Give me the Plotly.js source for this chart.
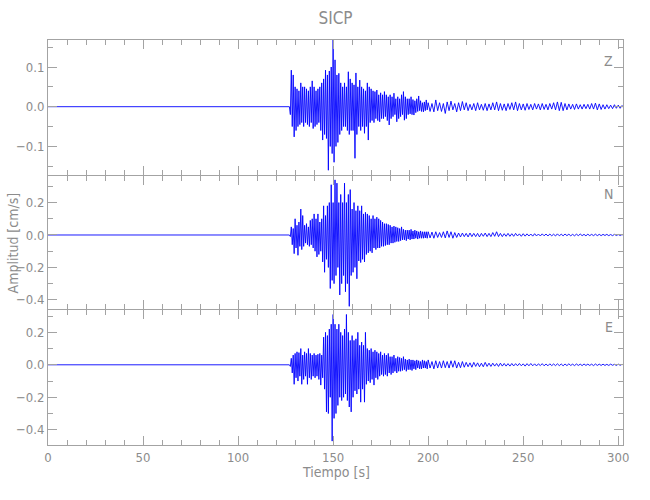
<!DOCTYPE html>
<html><head><meta charset="utf-8">
<script src="https://cdn.plot.ly/plotly-3.0.1.min.js"></script>
<style>html,body{margin:0;padding:0;background:#fff}#chart{width:650px;height:500px}</style>
</head><body><div id="chart"></div>
<script>
// Time bins of the min/max-decimated seismograms: [start (s), step (s), count]
// (pre-event noise is below one pixel, so it is a single flat bin)
const binSegments = [[0, 127, 1], [127, 1, 73], [200, 2, 52]];
const tEnd = 303;

// Component Z: per-bin max / min (cm/s)
const zUp = [
  0,
  0,0.092,0.08,0.05,0.045,0.04,0.06,0.05,0.05,0.045,0.04,0.05,0.065,0.05,0.04,0.045,0.05,0.06,0.07,0.092,
  0.08,0.09,0.10,0.175,0.118,0.08,0.084,0.06,0.05,0.06,0.05,0.088,0.07,0.06,0.055,0.085,0.05,0.067,0.05,0.045,
  0.04,0.06,0.05,0.045,0.04,0.038,0.042,0.03,0.035,0.03,0.038,0.03,0.025,0.03,0.025,0.034,0.02,0.025,0.02,0.03,
  0.038,0.025,0.02,0.02,0.025,0.018,0.015,0.02,0.027,0.015,0.01,0.012,0.017,
  0.01,0.008,0.017,0.01,0.008,0.012,0.014,0.008,0.01,0.013,0.01,0.006,0.008,0.01,0.006,0.008,0.007,0.01,0.012,
  0.008,0.007,0.008,0.01,0.012,0.008,0.007,0.008,0.006,0.008,0.007,0.008,0.006,0.008,0.01,0.012,0.011,0.008,
  0.007,0.006,0.007,0.005,0.006,0.006,0.008,0.009,0.007,0.005,0.005,0.004,0.005,0.004,0.003
];
const zDn = [
  0,
  -0.02,-0.05,-0.076,-0.06,-0.05,-0.045,-0.04,-0.05,-0.04,-0.045,-0.05,-0.04,-0.055,-0.05,-0.045,-0.04,-0.06,-0.084,
  -0.07,-0.08,-0.16,-0.1,-0.118,-0.14,-0.10,-0.09,-0.07,-0.06,-0.05,-0.05,-0.06,-0.07,-0.06,-0.06,-0.13,-0.07,
  -0.05,-0.06,-0.05,-0.067,-0.05,-0.084,-0.04,-0.035,-0.04,-0.03,-0.035,-0.038,-0.03,-0.03,-0.025,-0.035,-0.046,
  -0.03,-0.025,-0.02,-0.038,-0.03,-0.025,-0.02,-0.034,-0.03,-0.02,-0.018,-0.02,-0.021,-0.015,-0.012,-0.01,-0.012,
  -0.013,-0.01,-0.008,
  -0.012,-0.013,-0.01,-0.012,-0.017,-0.01,-0.008,-0.013,-0.01,-0.008,-0.01,-0.008,-0.01,-0.008,-0.009,-0.01,
  -0.008,-0.008,-0.01,-0.009,-0.01,-0.007,-0.008,-0.01,-0.008,-0.009,-0.007,-0.008,-0.006,-0.008,-0.007,-0.008,
  -0.006,-0.008,-0.01,-0.01,-0.008,-0.006,-0.007,-0.006,-0.006,-0.005,-0.006,-0.006,-0.008,-0.007,-0.006,-0.005,
  -0.005,-0.004,-0.004,-0.004
];

// Component N
const nUp = [
  0,
  0,0.05,0.04,0.1,0.06,0.08,0.16,0.12,0.06,0.07,0.05,0.09,0.1,0.13,0.1,0.13,0.08,0.1,0.18,0.12,0.18,0.2,
  0.31,0.2,0.34,0.32,0.2,0.25,0.2,0.32,0.2,0.25,0.28,0.16,0.2,0.15,0.18,0.15,0.18,0.13,0.14,0.13,0.12,0.1,
  0.12,0.1,0.11,0.1,0.09,0.08,0.07,0.07,0.065,0.06,0.05,0.055,0.05,0.045,0.04,0.05,0.035,0.03,0.03,0.03,
  0.035,0.025,0.03,0.025,0.02,0.025,0.02,0.02,0.02,
  0.02,0.018,0.02,0.015,0.02,0.025,0.02,0.015,0.012,0.012,0.01,0.012,0.01,0.01,0.01,0.012,0.01,0.015,0.02,
  0.01,0.008,0.01,0.008,0.01,0.007,0.008,0.007,0.006,0.008,0.006,0.007,0.006,0.006,0.005,0.007,0.005,0.006,
  0.005,0.004,0.005,0.006,0.004,0.005,0.004,0.005,0.004,0.004,0.004,0.003,0.004,0.003,0.003
];
const nDn = [
  0,
  -0.01,-0.06,-0.115,-0.08,-0.125,-0.07,-0.09,-0.07,-0.05,-0.06,-0.07,-0.06,-0.08,-0.1,-0.135,-0.12,-0.1,
  -0.166,-0.23,-0.15,-0.2,-0.33,-0.28,-0.3,-0.25,-0.2,-0.37,-0.3,-0.25,-0.35,-0.3,-0.44,-0.25,-0.23,-0.2,
  -0.27,-0.16,-0.17,-0.15,-0.166,-0.12,-0.11,-0.1,-0.11,-0.08,-0.09,-0.08,-0.08,-0.07,-0.07,-0.065,-0.06,
  -0.06,-0.05,-0.05,-0.045,-0.04,-0.04,-0.035,-0.03,-0.03,-0.035,-0.025,-0.03,-0.025,-0.025,-0.02,-0.025,
  -0.02,-0.02,-0.02,-0.018,-0.02,
  -0.018,-0.02,-0.015,-0.015,-0.018,-0.015,-0.02,-0.015,-0.012,-0.01,-0.012,-0.01,-0.01,-0.012,-0.008,-0.01,
  -0.01,-0.008,-0.01,-0.01,-0.008,-0.008,-0.008,-0.006,-0.008,-0.007,-0.006,-0.007,-0.006,-0.006,-0.005,
  -0.006,-0.005,-0.006,-0.005,-0.005,-0.004,-0.005,-0.005,-0.004,-0.004,-0.005,-0.004,-0.004,-0.004,-0.004,
  -0.003,-0.004,-0.004,-0.003,-0.003,-0.003
];

// Component E
const eUp = [
  0,
  0,0.04,0.06,0.07,0.08,0.075,0.1,0.06,0.08,0.07,0.1,0.07,0.06,0.07,0.06,0.065,0.07,0.06,0.17,0.2,0.18,
  0.22,0.25,0.31,0.25,0.22,0.25,0.2,0.18,0.22,0.31,0.2,0.15,0.18,0.15,0.16,0.2,0.12,0.14,0.12,0.2,0.1,0.09,
  0.1,0.08,0.09,0.08,0.07,0.08,0.06,0.07,0.06,0.07,0.05,0.05,0.06,0.04,0.05,0.045,0.04,0.05,0.035,0.03,
  0.035,0.03,0.03,0.025,0.03,0.025,0.02,0.03,0.025,0.02,
  0.03,0.02,0.025,0.02,0.025,0.02,0.025,0.025,0.015,0.02,0.015,0.012,0.015,0.012,0.01,0.015,0.01,0.01,0.008,
  0.01,0.008,0.007,0.008,0.007,0.008,0.006,0.007,0.008,0.006,0.006,0.007,0.005,0.006,0.005,0.006,0.005,0.005,
  0.006,0.004,0.005,0.004,0.005,0.004,0.004,0.005,0.004,0.004,0.003,0.004,0.003,0.004,0.003
];
const eDn = [
  0,
  -0.01,-0.05,-0.12,-0.08,-0.1,-0.07,-0.12,-0.09,-0.07,-0.12,-0.08,-0.09,-0.07,-0.08,-0.07,-0.09,-0.125,
  -0.08,-0.15,-0.29,-0.3,-0.2,-0.47,-0.33,-0.3,-0.25,-0.2,-0.22,-0.2,-0.18,-0.22,-0.26,-0.29,-0.2,-0.16,
  -0.18,-0.15,-0.23,-0.15,-0.23,-0.12,-0.1,-0.11,-0.09,-0.125,-0.08,-0.09,-0.07,-0.06,-0.07,-0.06,-0.07,
  -0.05,-0.06,-0.05,-0.04,-0.05,-0.04,-0.04,-0.035,-0.03,-0.04,-0.03,-0.03,-0.035,-0.025,-0.03,-0.02,-0.025,
  -0.025,-0.02,-0.02,-0.025,
  -0.02,-0.025,-0.02,-0.02,-0.018,-0.02,-0.015,-0.02,-0.018,-0.015,-0.012,-0.015,-0.01,-0.012,-0.012,-0.01,
  -0.01,-0.008,-0.01,-0.008,-0.008,-0.008,-0.007,-0.006,-0.006,-0.008,-0.006,-0.006,-0.007,-0.005,-0.006,
  -0.006,-0.005,-0.005,-0.005,-0.006,-0.005,-0.004,-0.005,-0.004,-0.005,-0.004,-0.004,-0.005,-0.004,-0.004,
  -0.004,-0.004,-0.003,-0.004,-0.003,-0.003
];

const components = ['Z', 'N', 'E'];
const chartTitle = 'SICP';
const xLabel = 'Tiempo [s]';
const yLabel = 'Amplitud [cm/s]';

function binList() {
  const b = [];
  binSegments.forEach(([t0, s, n]) => { for (let i = 0; i < n; i++) b.push([t0 + i * s, s]); });
  return b;
}
function zigzag(up, dn) {
  const bins = binList();
  const x = [], y = [];
  bins.forEach(([t, s], i) => {
    if (up[i] === undefined || dn[i] === undefined) return;
    x.push(t); y.push(up[i]);
    x.push(t + s / 2); y.push(dn[i]);
  });
  x.push(tEnd); y.push(0);
  return {x, y};
}

const FONT = '"Liberation Sans Narrow", "DejaVu Sans Condensed", "Liberation Sans", sans-serif';
const AX = '#a3a3a3';
const TXT = '#8c8c8c';
const series = [[zUp, zDn], [nUp, nDn], [eUp, eDn]];
const traces = series.map(([u, d], i) => {
  const z = zigzag(u, d);
  return {
    x: z.x, y: z.y, type: 'scatter', mode: 'lines',
    line: {color: '#0000ff', width: 0.9},
    xaxis: i === 0 ? 'x' : 'x' + (i + 1),
    yaxis: i === 0 ? 'y' : 'y' + (i + 1),
    hoverinfo: 'skip', showlegend: false
  };
});

function xax(showLabels, anchor) {
  return {
    range: [0, 302.5], anchor: anchor, domain: [0, 1],
    showline: true, linecolor: AX, linewidth: 1, mirror: 'ticks',
    ticks: 'inside', ticklen: 9, tickcolor: AX, tickwidth: 1,
    tick0: 0, dtick: 50, showticklabels: showLabels,
    minor: {dtick: 10, ticks: 'inside', ticklen: 5, tickcolor: AX, tickwidth: 1, showgrid: false},
    showgrid: false, zeroline: false,
    tickfont: {family: FONT, size: 13, color: TXT}
  };
}
function yax(range, dtick, dom, anchor) {
  return {
    range: range, domain: dom, anchor: anchor,
    showline: true, linecolor: AX, linewidth: 1, mirror: 'ticks',
    ticks: 'inside', ticklen: 9, tickcolor: AX, tickwidth: 1,
    tick0: 0, dtick: dtick, tickformat: '.1f',
    minor: {dtick: dtick / 2, ticks: 'inside', ticklen: 5, tickcolor: AX, tickwidth: 1, showgrid: false},
    showgrid: false, zeroline: false,
    tickfont: {family: FONT, size: 13, color: TXT}
  };
}

const layout = {
  width: 650, height: 500,
  margin: {l: 48, r: 27, t: 40, b: 55},
  paper_bgcolor: '#fff', plot_bgcolor: '#fff',
  title: {text: chartTitle, x: 0.5, xref: 'paper', y: 0.964, yanchor: 'middle',
          font: {family: FONT, size: 17, color: TXT}},
  xaxis: xax(false, 'y'),
  xaxis2: xax(false, 'y2'),
  xaxis3: xax(true, 'y3'),
  yaxis: yax([-0.172, 0.168], 0.1, [0.6667, 1], 'x'),
  yaxis2: yax([-0.456, 0.364], 0.2, [0.336, 0.6642], 'x2'),
  yaxis3: yax([-0.494, 0.338], 0.2, [0, 0.3335], 'x3'),
  annotations: [
    {text: xLabel, xref: 'paper', yref: 'paper', x: 0.5, y: -0.067, showarrow: false,
     xanchor: 'center', yanchor: 'middle', font: {family: FONT, size: 14, color: TXT}},
    {text: yLabel, xref: 'paper', yref: 'paper', x: -0.061, y: 0.5, showarrow: false, textangle: -90,
     xanchor: 'center', yanchor: 'middle', font: {family: FONT, size: 14, color: TXT}},
    {text: components[0], xref: 'paper', yref: 'paper', x: 0.975, y: 0.948, showarrow: false,
     xanchor: 'center', yanchor: 'middle', font: {family: FONT, size: 14, color: TXT}},
    {text: components[1], xref: 'paper', yref: 'paper', x: 0.975, y: 0.620, showarrow: false,
     xanchor: 'center', yanchor: 'middle', font: {family: FONT, size: 14, color: TXT}},
    {text: components[2], xref: 'paper', yref: 'paper', x: 0.975, y: 0.292, showarrow: false,
     xanchor: 'center', yanchor: 'middle', font: {family: FONT, size: 14, color: TXT}}
  ]
};

Plotly.newPlot('chart', traces, layout, {staticPlot: true, displayModeBar: false});
</script>
</body></html>
